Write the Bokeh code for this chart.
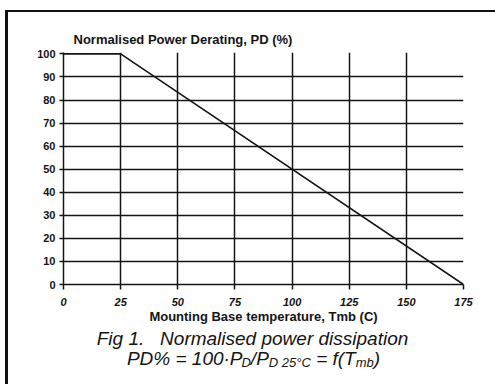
from bokeh.plotting import figure
from bokeh.layouts import column
from bokeh.models import Range1d, FixedTicker, Grid, Title
from bokeh.core.properties import value
from bokeh.embed import file_html
from bokeh.resources import INLINE

# Data
temperature = [0, 25, 175]          # Mounting base temperature, Tmb (C)
power_derating = [100, 100, 0]      # Normalised power derating, PD (%)
x_ticks = [0, 25, 50, 75, 100, 125, 150, 175]
y_ticks = [0, 10, 20, 30, 40, 50, 60, 70, 80, 90, 100]
x_grid = [25, 50, 75, 100, 125, 150]
x_grid_edge = [175]
y_grid = [10, 20, 30, 40, 50, 60, 70, 80, 90]

title_text = "Normalised Power Derating, PD (%)"
xlabel_text = "Mounting Base temperature, Tmb (C)"
caption1 = "Fig 1.\u00a0\u00a0\u00a0Normalised power dissipation"
caption2_runs = [("PD% = 100\u00b7P", "main"), ("D", "sub"), ("/P", "main"), ("D 25\u00b0C", "sub"),
                 (" = f(T", "main"), ("mb", "sub"), (")", "main")]

FONT = "Liberation Sans"
INK = "#141414"
W_TOTAL = 487
B_LEFT, B_RIGHT = 55, 32
FRAME_W = W_TOTAL - B_LEFT - B_RIGHT

# ---------------- chart ----------------
p = figure(width=W_TOTAL, height=314, output_backend="svg", toolbar_location=None,
           x_range=Range1d(0, 175), y_range=Range1d(0, 100.6),
           min_border_left=B_LEFT, min_border_right=B_RIGHT, min_border_top=40, min_border_bottom=41)
p.outline_line_color = None
p.xgrid.visible = False
p.ygrid.visible = False
p.add_layout(Grid(dimension=0, ticker=FixedTicker(ticks=x_grid), grid_line_color=INK, grid_line_width=1.5))
p.add_layout(Grid(dimension=0, ticker=FixedTicker(ticks=x_grid_edge), grid_line_color="#777777",
                  grid_line_width=1, grid_line_dash="1 2"))
p.add_layout(Grid(dimension=1, ticker=FixedTicker(ticks=y_grid), grid_line_color=INK, grid_line_width=1.5))

for ax in (p.xaxis[0], p.yaxis[0]):
    ax.axis_line_color = INK
    ax.axis_line_width = 1.5
    ax.major_tick_line_color = INK
    ax.major_tick_line_width = 1.5
    ax.minor_tick_line_color = None
    ax.major_tick_in = 0
    ax.major_label_text_font = FONT
    ax.major_label_text_color = INK
    ax.major_label_text_font_style = "bold"

p.xaxis.ticker = FixedTicker(ticks=x_ticks)
p.yaxis.ticker = FixedTicker(ticks=y_ticks)
p.xaxis.major_tick_out = 5
p.yaxis.major_tick_out = 4
p.xaxis.major_label_text_font_size = "11px"
p.xaxis.major_label_text_font_style = "bold italic"
p.yaxis.major_label_text_font_size = "11px"
p.xaxis.major_label_standoff = 8
p.yaxis.major_label_standoff = 4

p.xaxis.axis_label = xlabel_text
p.xaxis.axis_label_text_font = FONT
p.xaxis.axis_label_text_font_size = "13px"
p.xaxis.axis_label_text_font_style = "bold"
p.xaxis.axis_label_text_color = INK
p.xaxis.axis_label_standoff = 0

p.add_layout(Title(text=title_text, align="left", offset=10, standoff=12,
                   text_font=FONT, text_font_size="13px", text_font_style="bold",
                   text_color=INK), "above")

p.line(temperature, power_derating, line_color=INK, line_width=1.6)

# ---------------- caption (1 data unit = 1 px, origin at frame left) ----------------
CAP_H = 58
c = figure(width=W_TOTAL, height=CAP_H, output_backend="svg", toolbar_location=None,
           x_range=Range1d(0, FRAME_W), y_range=Range1d(0, CAP_H),
           x_axis_type=None, y_axis_type=None,
           min_border_left=B_LEFT, min_border_right=B_RIGHT, min_border_top=0, min_border_bottom=0)
c.outline_line_color = None
c.xgrid.visible = False
c.ygrid.visible = False

center_x = 189
c.text(x=[center_x], y=[CAP_H - 12], text=[caption1], text_font=value(FONT),
       text_font_size="19px", text_font_style="italic", text_color=INK,
       text_align="center", text_baseline="middle")

W = {"P": .667, "D": .722, "%": .889, " ": .278, "=": .584, "1": .556, "0": .556,
     "2": .556, "5": .556, "\u00b7": .278, "/": .278, "f": .278, "(": .333, ")": .333,
     "T": .611, "m": .833, "b": .556, "\u00b0": .4, "C": .722}
sizes = {"main": 19, "sub": 13}
drops = {"main": 0, "sub": 4}
widths = [sum(W.get(ch, .556) for ch in t) * sizes[k] for t, k in caption2_runs]
xs, ys, texts, fs = [], [], [], []
cur = center_x + 1 - sum(widths) / 2
base_y = CAP_H - 32
for (t, k), w in zip(caption2_runs, widths):
    xs.append(cur)
    ys.append(base_y - drops[k])
    texts.append(t.replace(" ", "\u00a0"))
    fs.append(f"{sizes[k]}px")
    cur += w
c.text(x=xs, y=ys, text=texts, text_font=value(FONT), text_font_size=fs,
       text_font_style="italic", text_color=INK, text_align="left", text_baseline="alphabetic")

layout = column(p, c, spacing=0,
                styles={"border-left": "3px solid #111", "border-top": "2px solid #111",
                        "margin-left": "5px", "margin-top": "10px"})

open("out.html", "w").write(file_html(layout, INLINE))
